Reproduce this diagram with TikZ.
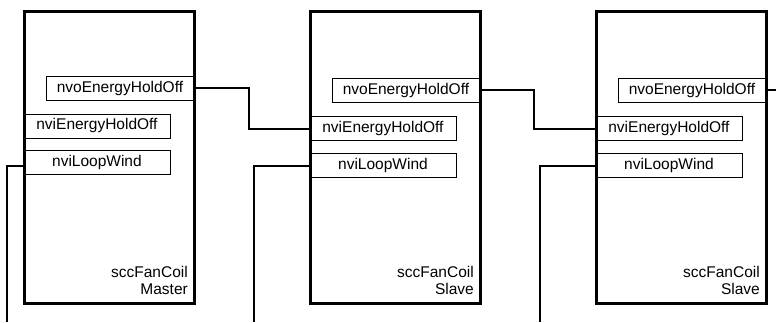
\documentclass[tikz,border=0pt]{standalone}
\usepackage{fontspec}
\setmainfont{Liberation Sans}
\begin{document}
\begin{tikzpicture}[x=1pt,y=-1pt,
  bigbox/.style={draw, line width=3.2pt, anchor=north west, minimum width=170pt, minimum height=292pt, inner sep=0pt},
  sbox/.style={draw, fill=white, line width=0.9pt, anchor=north west, minimum width=147pt, minimum height=24pt, inner sep=0pt, font=\fontsize{15.5}{17}\selectfont},
  lbl/.style={anchor=north east, align=right, inner sep=0pt, font=\fontsize{15.5}{17}\selectfont},
  wire/.style={line width=2pt}]
\useasboundingbox (0,0) rectangle (776,322);
% block 1
\node[sbox] (o1) at (46,76) {nvoEnergyHoldOff};
\node[sbox] (i1) at (23,113.5) {nviEnergyHoldOff};
\node[sbox] (w1) at (23,150) {nviLoopWind};
\node[bigbox] (b1) at (23,10) {};
\node[lbl] (t1) at (188,266) {sccFanCoil\\Master};
% block 2
\node[sbox] (o2) at (332,78) {nvoEnergyHoldOff};
\node[sbox] (i2) at (309,116) {nviEnergyHoldOff};
\node[sbox] (w2) at (309,153) {nviLoopWind};
\node[bigbox] (b2) at (309,10) {};
\node[lbl] (t2) at (474,266) {sccFanCoil\\Slave};
% block 3
\node[sbox] (o3) at (618,78) {nvoEnergyHoldOff};
\node[sbox] (i3) at (595,116) {nviEnergyHoldOff};
\node[sbox] (w3) at (595,153) {nviLoopWind};
\node[bigbox] (b3) at (595,10) {};
\node[lbl] (t3) at (760,266) {sccFanCoil\\Slave};
% free ends
\coordinate (e3) at (776,89);
\coordinate (d1) at (7,322);
\coordinate (d2) at (254,322);
\coordinate (d3) at (540,322);
% connectors
\draw[wire] (o1.east) -| (249,129) -- (i2.west |- 0,129);
\draw[wire] (o2.east) -| (534,129) -- (i3.west |- 0,129);
\draw[wire] (o3.east) -- (e3 |- o3.east);
\draw[wire] ([yshift=-4pt]w1.west) -| (d1);
\draw[wire] ([yshift=-1pt]w2.west) -| (d2);
\draw[wire] ([yshift=-1pt]w3.west) -| (d3);
\end{tikzpicture}
\end{document}
